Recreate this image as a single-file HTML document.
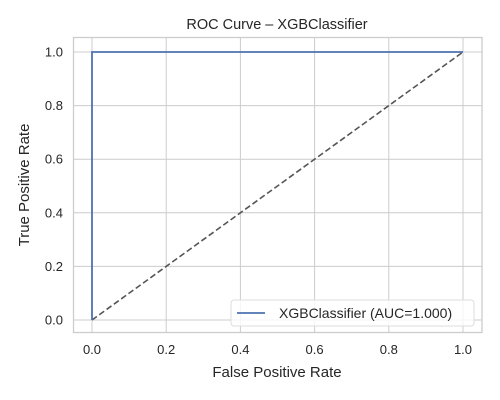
<!DOCTYPE html>
<html><head><meta charset="utf-8"><style>body{margin:0;background:#fff}svg{display:block;font-family:"Liberation Sans",sans-serif}</style></head>
<body>
<svg id="c" width="500" height="400">
<rect x="73.5" y="37.5" width="408.5" height="295" fill="#fff" stroke="#ccc" stroke-width="1.3"/>
<g id="grid"></g><g id="ticks"></g><g id="series"></g>
<text x="277" y="29" text-anchor="middle" font-size="14.5" fill="#262626">ROC Curve – XGBClassifier</text>
<text x="277" y="377" text-anchor="middle" font-size="15" fill="#262626">False Positive Rate</text>
<text transform="translate(29,185) rotate(-90)" text-anchor="middle" font-size="15" fill="#262626">True Positive Rate</text>
<g>
<rect x="231" y="300" width="243" height="26" rx="3" fill="#fff" fill-opacity="0.8" stroke="#ddd"/>
<line x1="237" y1="313" x2="265" y2="313" stroke="#4c72b0" stroke-width="1.8"/>
<text x="279" y="318" font-size="14" fill="#262626">XGBClassifier (AUC=1.000)</text>
</g>
</svg>
<script>
const fpr=[0,0,1];
const tpr=[0,1,1];
const diagX=[0,1];
const diagY=[0,1];
const xTicks=[0,0.2,0.4,0.6,0.8,1.0];
const yTicks=[0,0.2,0.4,0.6,0.8,1.0];
const X=v=>92+v*371, Y=v=>320-v*268;
const NS='http://www.w3.org/2000/svg';
function mk(t,a,p){const e=document.createElementNS(NS,t);for(const k in a)e.setAttribute(k,a[k]);p.appendChild(e);return e;}
const g=document.getElementById('grid'),tk=document.getElementById('ticks'),s=document.getElementById('series');
xTicks.forEach(v=>{const l=mk('line',{x1:X(v),x2:X(v),y1:37.5,y2:332.5,stroke:'#ccc','stroke-width':1},g);


const t=mk('text',{x:X(v),y:354,'text-anchor':'middle','font-size':13,fill:'#262626'},tk);t.textContent=v.toFixed(1);

});
yTicks.forEach(v=>{const l=mk('line',{x1:73.5,x2:482,y1:Y(v),y2:Y(v),stroke:'#ccc','stroke-width':1},g);


const t=mk('text',{x:63,y:Y(v)+4.5,'text-anchor':'end','font-size':13,fill:'#262626'},tk);t.textContent=v.toFixed(1);

});
const d=mk('polyline',{points:diagX.map((v,i)=>X(v)+','+Y(diagY[i])).join(' '),fill:'none',stroke:'#555','stroke-width':1.6,'stroke-dasharray':'6,3'},s);


const r=mk('polyline',{points:fpr.map((v,i)=>X(v)+','+Y(tpr[i])).join(' '),fill:'none',stroke:'#4c72b0','stroke-width':1.8},s);


</script>
</body></html>
